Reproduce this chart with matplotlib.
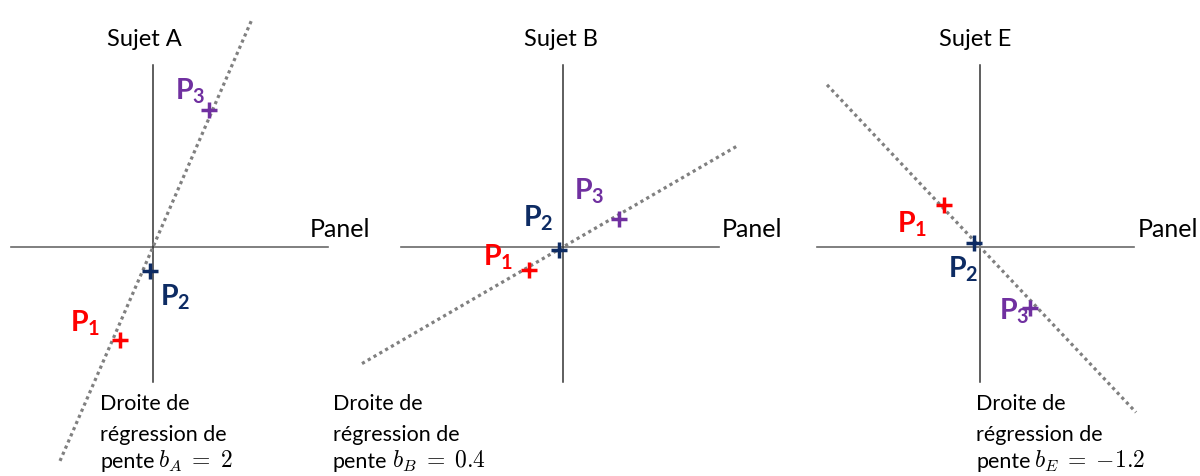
import matplotlib
matplotlib.use("Agg")
import matplotlib.pyplot as plt

plt.rcParams['font.family'] = ['Lato', 'DejaVu Sans']
plt.rcParams['mathtext.fontset'] = 'custom'
plt.rcParams['mathtext.rm'] = 'Lato'
plt.rcParams['mathtext.bf'] = 'Lato:bold'
plt.rcParams['mathtext.it'] = 'Lato:italic'

W, H = 1200, 476

# data (pixel-like units, origin at the axes crossing, y up)
subjects = ["Sujet A", "Sujet B", "Sujet E"]
slope_labels = ["A", "B", "E"]
slope_values = ["2", "0.4", "{-}1.2"]
line_slopes = [2.3, 0.58, -1.06]
line_x = [(-93, 99), (-201, 175), (-153, 156)]
p1 = [(-33, -93), (-34, -23), (-36, 42)]
p2 = [(-3, -24), (-4, -3), (-6, 4)]
p3 = [(56, 137), (56, 28), (50, -61)]
note_lines = ["Droite de", "régression de", "pente"]

# layout
origins = [(153, 247), (563, 247), (980, 247)]
haxis = [(-142, 175), (-162, 156), (-163, 154)]
vaxis = (-135, 182)
title_dx = [-9, -2, -5]
panel_dx = [157, 159, 158]
note_dx = [-53, -230, -4]
note_y = [-163, -194, -221]
lab_off = [
    [(-83, -85), (7, -58), (22, 147)],
    [(-80, -18), (-40, 21), (11, 48)],
    [(-83, 15), (-32, -30), (19, -73)],
]
colors = ["#FF0000", "#0D2B63", "#7030A0"]

fig = plt.figure(figsize=(12, 4.76), dpi=100)
renderer = fig.canvas.get_renderer()

for i in range(3):
    ox, oy = origins[i]
    ax = fig.add_axes([0, 0, 1, 1])
    ax.set_xlim(-ox, W - ox)
    ax.set_ylim(-(H - oy), oy)
    ax.axis('off')
    ax.patch.set_alpha(0)

    ax.plot(haxis[i], [0, 0], color='#6a6a6a', lw=1.2)
    ax.plot([0, 0], vaxis, color='#333333', lw=1.1)

    x0, x1 = line_x[i]
    s = line_slopes[i]
    ax.plot([x0, x1], [s * x0, s * x1], color='#808080', lw=2.3,
            linestyle=(0, (1, 1.1)), dash_capstyle='butt')

    pts = [p1[i], p2[i], p3[i]]
    for k, (px, py) in enumerate(pts):
        ax.plot(px, py, marker='+', ms=11, mew=2.5, color=colors[k])
        dx, dy = lab_off[i][k]
        ax.text(dx, dy, r"$\mathbf{P}_{\mathbf{%d}}$" % (k + 1), color=colors[k],
                fontsize=20.5, ha='left', va='baseline')

    ax.text(title_dx[i], 201, subjects[i], fontsize=17, ha='center', va='baseline')
    ax.text(panel_dx[i], 10, "Panel", fontsize=18, ha='left', va='baseline')
    for line, ly in zip(note_lines, note_y):
        t = ax.text(note_dx[i], ly, line, fontsize=15.5, ha='left', va='baseline')
    wpx = t.get_window_extent(renderer).width
    ax.text(note_dx[i] + wpx + 4, note_y[-1],
            r"$b_{%s}\;=\;%s$" % (slope_labels[i], slope_values[i]),
            fontsize=17, ha='left', va='baseline', math_fontfamily='cm')

fig.savefig("out.png", dpi=100)
